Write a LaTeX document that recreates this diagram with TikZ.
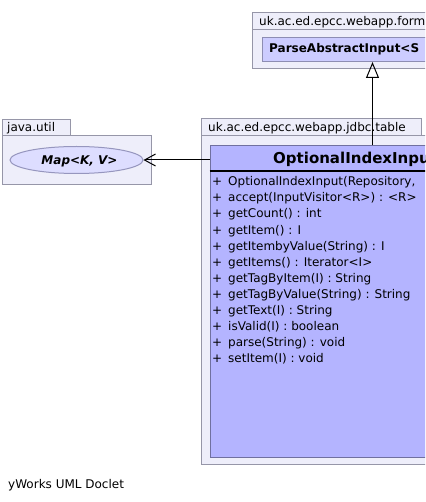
\documentclass[tikz,border=0pt]{standalone}
\usepackage{fontspec}
\setmainfont{DejaVu Sans}
\usetikzlibrary{arrows.meta,shapes.geometric}
\definecolor{pkgfill}{RGB}{238,238,250}
\definecolor{pkgdraw}{RGB}{150,150,168}
\definecolor{classfill}{RGB}{180,180,255}
\definecolor{classdraw}{RGB}{112,112,160}
\definecolor{innerfill}{RGB}{204,204,255}
\definecolor{ellfill}{RGB}{221,221,255}
\definecolor{elldraw}{RGB}{150,150,190}
\tikzset{
  pkg/.style={draw=pkgdraw, fill=pkgfill, line width=1pt},
  classbox/.style={draw=classdraw, fill=classfill, line width=1pt, inner sep=0pt},
  innerbox/.style={draw=classdraw!80, fill=innerfill, line width=1pt, inner sep=0pt},
  txt/.style={anchor=base west, inner sep=0pt},
  member/.style={anchor=base west, inner sep=0pt},
  conn/.style={draw=black, line width=1pt}
}
\begin{document}
\begin{tikzpicture}[x=1pt,y=-1pt,font=\fontsize{12}{16}\selectfont]
\useasboundingbox (0,0) rectangle (425,502);
\clip (0,0) rectangle (425,502);
\fill[white] (0,0) rectangle (425,502);

% top package uk.ac.ed.epcc.webapp.form...
\draw[pkg] (252.5,12.5) rectangle (520,29.5);
\draw[pkg] (252.5,29.5) rectangle (520,69);
\node[txt] (formlbl) at (259,26) {uk.ac.ed.epcc.webapp.form};
\node[innerbox, anchor=north west, minimum width=240, minimum height=24] (parse) at (261.5,37) {};
\node[txt] (parselbl) at (269,53) {\bfseries ParseAbstractInput<S};

% java.util package
\draw[pkg] (2.5,119.5) rectangle (70,135.5);
\draw[pkg] (2.5,135.5) rectangle (151.5,185);
\node[txt] (utillbl) at (7,131.5) {java.util};
\node[draw=elldraw, fill=ellfill, line width=1pt, ellipse, minimum width=133, minimum height=27, inner sep=0pt] (map) at (76.5,160) {};
\node[anchor=base, inner sep=0pt] (maplbl) at (79.5,165) {\bfseries\itshape Map<K, V>};

% jdbc.table package
\draw[pkg] (201.5,118.5) rectangle (421,136);
\draw[pkg] (201.5,136) rectangle (620,464);
\node[txt] (tablelbl) at (208,132) {uk.ac.ed.epcc.webapp.jdbc.table};

% class
\node[classbox, anchor=north west, minimum width=400, minimum height=311] (cls) at (209.5,145.5) {};
\node[txt] (title) at (273,164) {\fontsize{15}{18}\selectfont\bfseries OptionalIndexInput};
\coordinate (sepL) at (209.5,171);
\draw[line width=2pt] (sepL) -- (sepL -| cls.east);

\foreach \i/\t in {0/{OptionalIndexInput(Repository,},
                   1/{accept(InputVisitor<R>) : <R>},
                   2/{getCount() : int},
                   3/{getItem() : I},
                   4/{getItembyValue(String) : I},
                   5/{getItems() : Iterator<I>},
                   6/{getTagByItem(I) : String},
                   7/{getTagByValue(String) : String},
                   8/{getText(I) : String},
                   9/{isValid(I) : boolean},
                   10/{parse(String) : void},
                   11/{setItem(I) : void}} {
  \node[member] (m\i) at (212,186+16*\i) {\makebox[16pt][l]{+}\t};
}

% generalization
\coordinate (gx) at (372.5,0);
\draw[conn, -{Triangle[open, length=16pt, width=13pt, line width=1pt]}] (gx |- cls.north) -- (gx |- parse.south);

% association to Map
\draw[conn, -{Straight Barb[length=11pt, width=12pt, line width=1pt]}] (map.east -| cls.west) -- (map.east);

% footer
\node[txt] (footer) at (8,488) {yWorks UML Doclet};
\end{tikzpicture}
\end{document}
